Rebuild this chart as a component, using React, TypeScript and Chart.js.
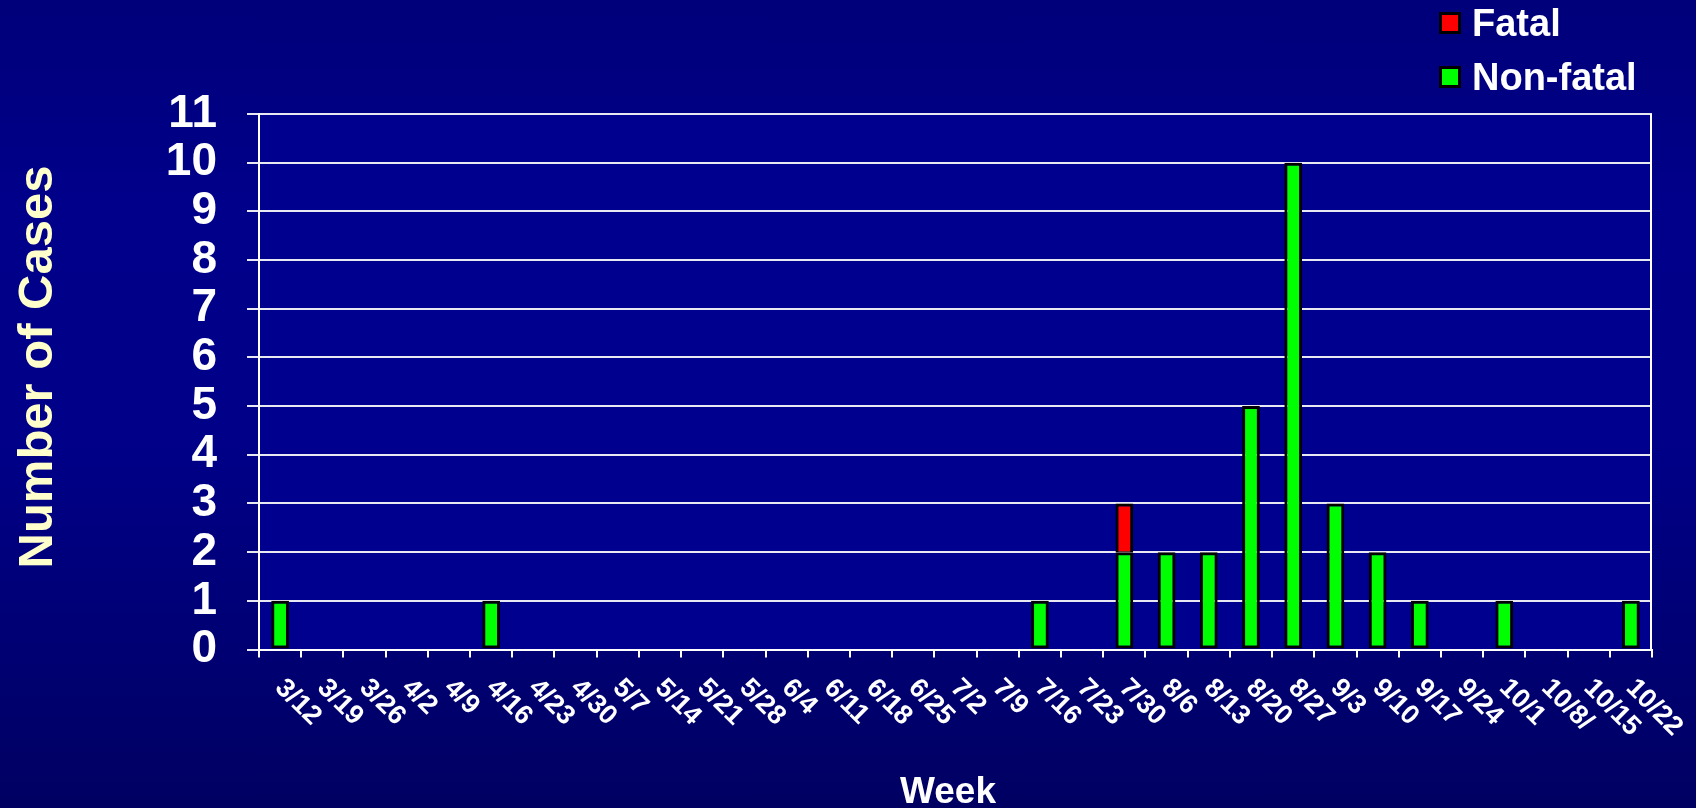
import { useEffect, useRef } from 'react';
import { Chart, registerables } from 'chart.js';

Chart.register(...registerables);

const weeks = [
  '3/12', '3/19', '3/26', '4/2', '4/9', '4/16', '4/23', '4/30', '5/7', '5/14', '5/21',
  '5/28', '6/4', '6/11', '6/18', '6/25', '7/2', '7/9', '7/16', '7/23', '7/30', '8/6',
  '8/13', '8/20', '8/27', '9/3', '9/10', '9/17', '9/24', '10/1', '10/8/', '10/15', '10/22',
];

const nonFatal = [
  1, 0, 0, 0, 0, 1, 0, 0, 0, 0, 0,
  0, 0, 0, 0, 0, 0, 0, 1, 0, 2, 2,
  2, 5, 10, 3, 2, 1, 0, 1, 0, 0, 1,
];

const fatal = [
  0, 0, 0, 0, 0, 0, 0, 0, 0, 0, 0,
  0, 0, 0, 0, 0, 0, 0, 0, 0, 1, 0,
  0, 0, 0, 0, 0, 0, 0, 0, 0, 0, 0,
];

const seriesNames = ['Non-fatal', 'Fatal'];
const seriesColors = ['#00FF00', '#FF0000'];
const yMin = 0;
const yMax = 11;
const yTitle = 'Number of Cases';
const xTitle = 'Week';

const FONT = '"Liberation Sans", Arial, Helvetica, sans-serif';

const decorPlugin = {
  id: 'decor',
  beforeDraw(chart: any) {
    const { ctx, chartArea } = chart;
    ctx.save();
    ctx.fillStyle = '#00008E';
    ctx.fillRect(chartArea.left, chartArea.top, chartArea.right - chartArea.left, chartArea.bottom - chartArea.top);
    ctx.restore();
  },
  afterDraw(chart: any) {
    const { ctx, chartArea } = chart;
    const xs = chart.scales.x;
    ctx.save();
    // right border of plot
    ctx.strokeStyle = '#FFFFFF';
    ctx.lineWidth = 2;
    ctx.beginPath();
    ctx.moveTo(chartArea.right - 1, chartArea.top);
    ctx.lineTo(chartArea.right - 1, chartArea.bottom);
    ctx.stroke();

    // rotated category labels
    ctx.fillStyle = '#FFFFFF';
    ctx.font = `bold 27px ${FONT}`;
    ctx.textAlign = 'left';
    ctx.textBaseline = 'alphabetic';
    const labels = chart.data.labels as string[];
    labels.forEach((lab, i) => {
      const px = xs.getPixelForTick(i);
      ctx.save();
      ctx.translate(px - 6, 689);
      ctx.rotate(Math.PI / 4);
      ctx.fillText(lab, 0, 0);
      ctx.restore();
    });

    // x title
    ctx.font = `bold 37px ${FONT}`;
    ctx.textAlign = 'center';
    ctx.fillText(xTitle, 948, 803);

    // y title
    ctx.save();
    ctx.fillStyle = '#FFFFCC';
    ctx.font = `bold 49px ${FONT}`;
    ctx.translate(52, 367);
    ctx.rotate(-Math.PI / 2);
    ctx.textAlign = 'center';
    ctx.fillText(yTitle, 0, 0);
    ctx.restore();

    // legend (stack order reversed: top series first)
    const ds = [...chart.data.datasets].reverse();
    ctx.font = `bold 38px ${FONT}`;
    ctx.textAlign = 'left';
    ds.forEach((d: any, i: number) => {
      const top = 12 + i * 54;
      ctx.fillStyle = '#000000';
      ctx.fillRect(1439, top, 22, 22);
      ctx.fillStyle = d.backgroundColor;
      ctx.fillRect(1442, top + 3, 16, 16);
      ctx.fillStyle = '#FFFFFF';
      ctx.fillText(d.label, 1472, top + 24);
    });
    ctx.restore();
  },
};

export default function App() {
  const canvasRef = useRef<HTMLCanvasElement | null>(null);

  useEffect(() => {
    document.body.style.margin = '0';
    const canvas = canvasRef.current;
    if (!canvas) return;
    const chart = new Chart(canvas, {
      type: 'bar',
      data: {
        labels: weeks,
        datasets: [
          {
            label: seriesNames[0],
            data: nonFatal.map((v) => (v === 0 ? null : v)),
            backgroundColor: seriesColors[0],
            borderColor: '#000000',
            borderWidth: 3,
            borderSkipped: false,
            barPercentage: 0.42,
            categoryPercentage: 1,
          },
          {
            label: seriesNames[1],
            data: fatal.map((v) => (v === 0 ? null : v)),
            backgroundColor: seriesColors[1],
            borderColor: '#000000',
            borderWidth: { top: 3, left: 3, right: 3, bottom: 1 },
            borderSkipped: false,
            barPercentage: 0.42,
            categoryPercentage: 1,
          },
        ],
      },
      options: {
        responsive: false,
        devicePixelRatio: 1,
        animation: false,
        layout: { padding: { left: 0, right: 44, top: 114, bottom: 0 } },
        plugins: {
          legend: { display: false },
          tooltip: { enabled: false },
          title: { display: false },
        },
        scales: {
          x: {
            type: 'category',
            stacked: true,
            afterFit: (s: any) => {
              s.height = 158.5;
            },
            grid: {
              offset: true,
              drawOnChartArea: false,
              drawTicks: true,
              tickLength: 8,
              color: '#FFFFFF',
              lineWidth: 2,
            },
            border: { display: true, color: '#FFFFFF', width: 2 },
            ticks: { display: false },
          },
          y: {
            stacked: true,
            min: yMin,
            max: yMax,
            afterFit: (s: any) => {
              s.width = 259;
            },
            grid: {
              color: '#E8E8F2',
              lineWidth: 2,
              drawTicks: true,
              tickLength: 12,
            },
            border: { display: true, color: '#FFFFFF', width: 2 },
            ticks: {
              stepSize: 1,
              autoSkip: false,
              color: '#FFFFFF',
              padding: 30,
              font: { family: FONT, weight: 'bold', size: 46, lineHeight: 1 },
            },
          },
        },
      },
      plugins: [decorPlugin],
    } as any);
    return () => chart.destroy();
  }, []);

  return (
    <div
      style={{
        position: 'fixed',
        left: 0,
        top: 0,
        width: 1696,
        height: 808,
        background: 'linear-gradient(180deg, #00007A 0%, #00008A 25%, #000088 55%, #000062 100%)',
      }}
    >
      <canvas ref={canvasRef} width={1696} height={808} style={{ display: 'block' }} />
    </div>
  );
}
